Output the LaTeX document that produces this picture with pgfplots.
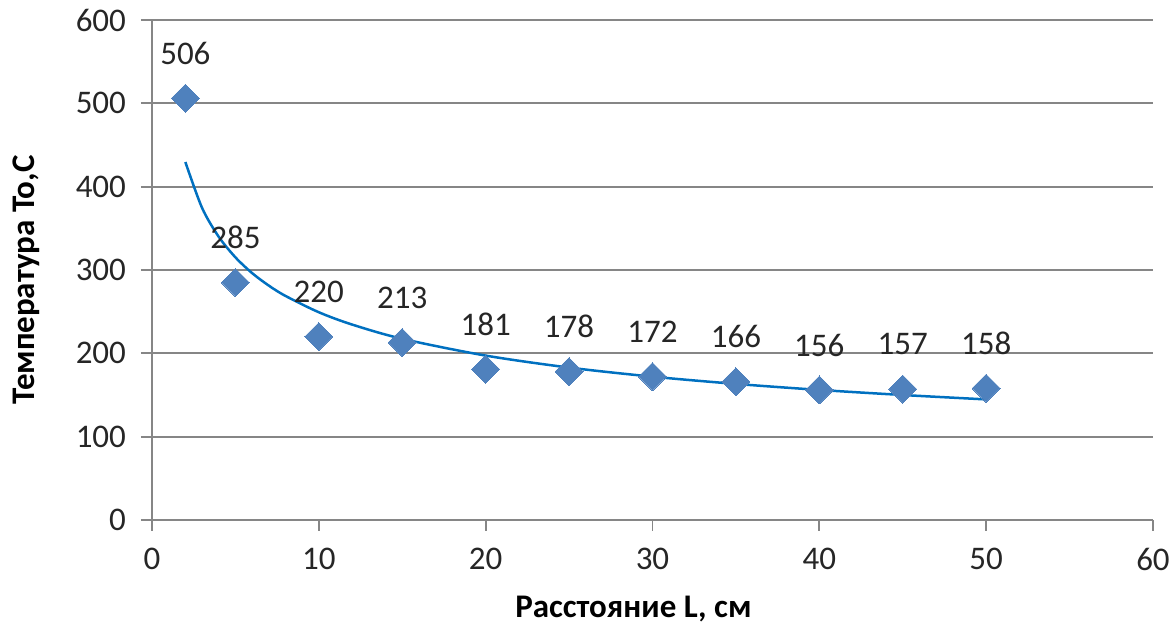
\documentclass[border=0pt]{standalone}
\usepackage{fontspec}
\setmainfont{Carlito}
\usepackage{pgfplots}
\pgfplotsset{compat=1.18}
\definecolor{axgray}{HTML}{868686}
\definecolor{mk}{HTML}{4F81BD}
\definecolor{tr}{HTML}{0070C0}
\begin{document}
\begin{tikzpicture}
\useasboundingbox (-76pt,-53pt) rectangle (511.5pt,260pt);
\begin{axis}[
  at={(0,0)}, anchor=south west,
  width=500.5pt, height=250pt, scale only axis,
  xmin=0, xmax=60, ymin=0, ymax=600,
  xtick={0,10,...,60}, ytick={0,100,...,600},
  axis x line=bottom, axis y line=left,
  axis line style={axgray, line width=0.9pt, -},
  tick style={axgray, line width=0.9pt},
  tick align=outside, major tick length=5.5pt,
  ymajorgrids, grid style={axgray, line width=0.9pt},
  /pgf/number format/assume math mode=true,
  tick label style={font=\fontsize{16.5}{19}\selectfont, text=black!85},
  xticklabel style={anchor=north, yshift=-5pt},
  yticklabel style={anchor=east, xshift=-4pt},
  xlabel={Расстояние L, см},
  ylabel={Температура То,С},
  xlabel style={at={(axis description cs:0.481,-0.1954)}, anchor=base, font=\bfseries\fontsize{16.5}{19}\selectfont},
  ylabel style={at={(axis description cs:-0.126,0.48)}, anchor=center, rotate=0, font=\bfseries\fontsize{16.5}{19}\selectfont},
  clip=false,
]
\addplot[tr, line width=1.25pt, smooth] coordinates {
(2,429.6) (3,374.6) (4,339.9) (5,315.2) (6,296.3) (7,281.3) (8,268.9) (10,249.3) (12,234.5) (15,217.4) (20,197.3) (25,182.9) (30,172.0) (35,163.3) (40,156.1) (45,150.0) (50,144.7)
};
\addplot[only marks, mark=square*, mark size=4.95pt, mark options={rotate=45, fill=mk, draw=mk, line width=0pt},
  nodes near coords, nodes near coords style={anchor=center, yshift=22.5pt, font=\fontsize{16.5}{19}\selectfont, text=black!85}] coordinates {
(2,506) (5,285) (10,220) (15,213) (20,181) (25,178) (30,172) (35,166) (40,156) (45,157) (50,158)
};
\end{axis}
\end{tikzpicture}
\end{document}
